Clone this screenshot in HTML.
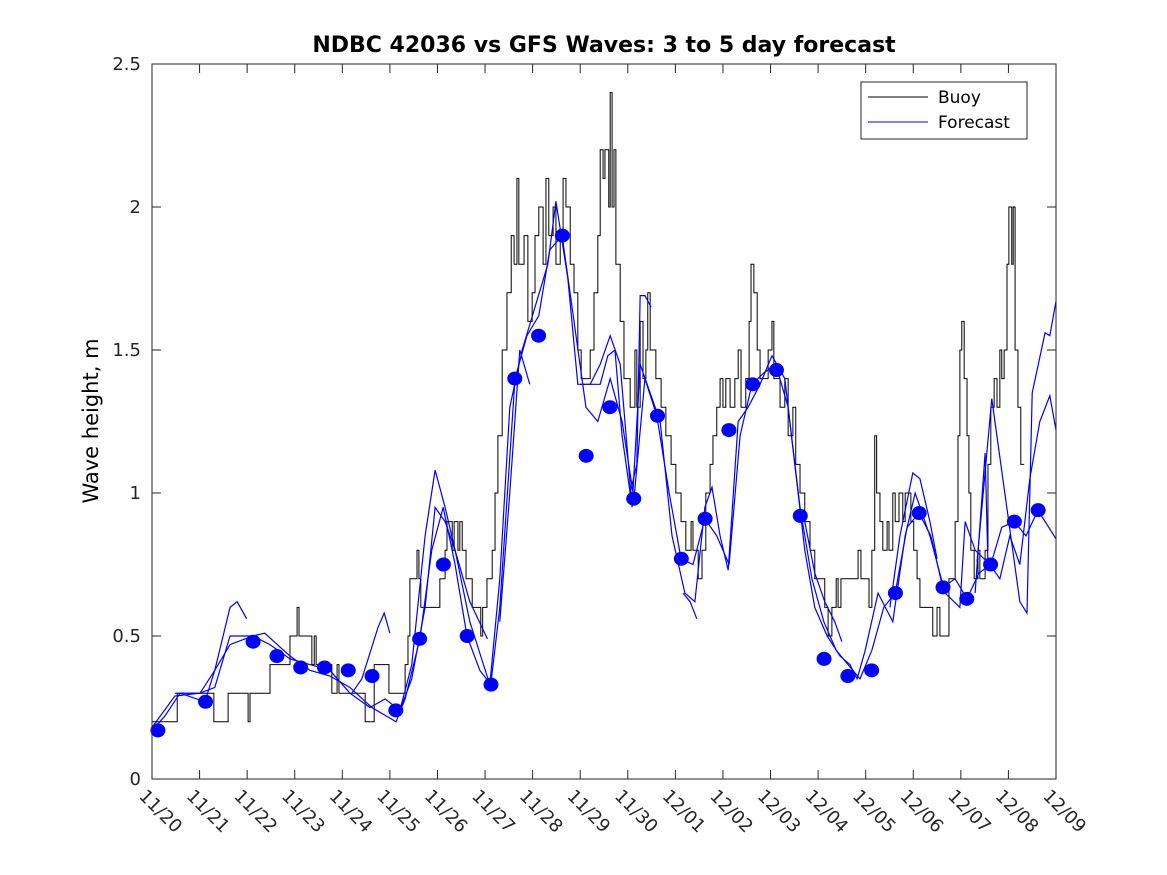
<!DOCTYPE html>
<html><head><meta charset="utf-8"><style>
body{margin:0;background:#fff;}
svg{display:block;font-family:"DejaVu Sans","Liberation Sans",sans-serif;}
</style></head><body>
<svg id="chart" width="1167" height="875" viewBox="0 0 1167 875">
<rect x="0" y="0" width="1167" height="875" fill="#fff"/>
<text x="604" y="52" text-anchor="middle" font-size="22" font-weight="bold">NDBC 42036 vs GFS Waves: 3 to 5 day forecast</text>
<text transform="translate(98,421) rotate(-90)" text-anchor="middle" font-size="21">Wave height, m</text>
<g id="grid"></g>
<g id="series"></g>
<g id="dots"></g>
<rect x="152" y="64" width="904" height="715" fill="none" stroke="#262626" stroke-width="1"/>
<g>
<rect x="861" y="82" width="166" height="57" fill="#fff" stroke="#262626"/>
<line x1="868" y1="97" x2="928" y2="97" stroke="#000"/>
<text x="938" y="103" font-size="17">Buoy</text>
<line x1="868" y1="122" x2="928" y2="122" stroke="#00f"/>
<text x="938" y="128" font-size="17">Forecast</text>
</g>
</svg>
<script>
const xTickLabels=["11/20","11/21","11/22","11/23","11/24","11/25","11/26","11/27","11/28","11/29","11/30","12/01","12/02","12/03","12/04","12/05","12/06","12/07","12/08","12/09"];
const yTicks=[0,0.5,1,1.5,2,2.5];
const yTickLabels=["0","0.5","1","1.5","2","2.5"];
const buoyT=[0,.53,1.30,1.60,2.02,2.06,2.48,2.90,3.05,3.09,3.36,3.41,3.45,3.78,3.89,3.93,4.48,4.67,4.98,5.32,5.38,5.42,5.57,5.61,5.65,6.05,6.16,6.20,6.31,6.35,6.43,6.47,6.52,6.60,6.73,6.91,6.95,7.04,7.15,7.21,7.27,7.36,7.46,7.55,7.61,7.67,7.71,7.82,7.90,7.99,8.05,8.13,8.22,8.28,8.34,8.43,8.49,8.58,8.64,8.70,8.79,8.87,8.95,9.02,9.21,9.29,9.37,9.42,9.48,9.52,9.60,9.63,9.67,9.71,9.75,9.84,9.92,10.05,10.15,10.19,10.26,10.32,10.38,10.42,10.47,10.59,10.70,10.80,10.91,11.01,11.12,11.22,11.33,11.37,11.48,11.56,11.64,11.73,11.79,11.87,11.94,12.00,12.06,12.15,12.25,12.32,12.38,12.48,12.55,12.59,12.65,12.72,12.78,12.95,13.03,13.07,13.20,13.30,13.37,13.47,13.53,13.62,13.72,13.83,13.93,14.14,14.21,14.29,14.38,14.42,14.48,14.84,14.90,15.07,15.13,15.19,15.23,15.30,15.36,15.45,15.49,15.57,15.62,15.70,15.78,15.83,15.95,16.01,16.08,16.14,16.41,16.50,16.56,16.75,16.88,16.94,16.98,17.02,17.07,17.13,17.17,17.21,17.28,17.36,17.40,17.51,17.57,17.63,17.70,17.76,17.82,17.86,17.91,17.97,18.01,18.07,18.10,18.14,18.20,18.26,18.31];
const buoyV=[.2,.3,.2,.3,.2,.3,.4,.5,.6,.5,.4,.5,.4,.3,.4,.3,.2,.4,.3,.4,.5,.7,.8,.7,.6,.7,.8,.9,.8,.9,.8,.9,.8,.7,.6,.5,.6,.7,.8,1.0,1.2,1.5,1.7,1.9,1.8,2.1,1.8,1.9,1.6,1.7,1.9,2.0,1.8,2.1,1.9,2.0,1.8,1.9,2.1,2.0,1.8,1.7,1.5,1.4,1.5,1.7,1.9,2.2,2.1,2.2,2.0,2.4,2.0,2.2,1.8,1.6,1.4,1.3,1.5,1.3,1.6,1.4,1.5,1.7,1.5,1.4,1.3,1.2,1.1,1.0,.9,.8,.9,.8,.7,.8,1.0,1.1,1.2,1.3,1.4,1.3,1.4,1.3,1.4,1.5,1.3,1.4,1.6,1.8,1.7,1.5,1.4,1.5,1.6,1.4,1.3,1.4,1.2,1.3,1.1,1.0,.9,.8,.7,.6,.5,.6,.7,.6,.7,.8,.7,.6,.8,1.2,1.0,.9,.8,.9,.8,1.0,.9,1.0,.9,1.0,.9,.8,.7,.6,.5,.6,.5,.7,.9,1.2,1.5,1.6,1.4,1.2,1.0,.8,.7,.8,.7,.8,1.1,1.3,1.4,1.3,1.5,1.4,1.5,1.8,2.0,1.8,2.0,1.5,1.3,1.1,1.1];
const fc1T=[0,.27,.59,1.11,1.32,1.64,2.12,2.37,2.90,3.32,3.74,4.16,4.62,5.13,5.32,5.63,5.88,6.12,6.37,6.62,6.89,7.12,7.31,7.63,7.88,8.13,8.36,8.62,8.87,9.12,9.37,9.63,9.88,10.13,10.36,10.61,10.87,11.12,11.37,11.62,11.87,12.13,12.36,12.61,12.86,13.11,13.37,13.62,13.87,14.12,14.38,14.63,14.88,15.13,15.38,15.62,15.87,16.12,16.37,16.62,16.88,17.13,17.38,17.63,17.86,18.12,18.37,18.62,19];
const fc1V=[.17,.22,.30,.27,.38,.47,.50,.51,.43,.38,.36,.32,.25,.20,.28,.49,.80,.95,.75,.50,.38,.33,.60,1.40,1.55,1.62,1.85,1.90,1.60,1.30,1.25,1.40,1.25,.98,1.40,1.27,1.00,.77,.75,.91,.85,.75,1.20,1.38,1.42,1.45,1.30,.95,.70,.55,.45,.40,.35,.45,.60,.65,.88,.93,.85,.67,.70,.63,.72,.75,.88,.90,.85,.94,.84];
const fc2T=[0,.48,1.01,1.32,1.64,2.12,2.48,2.90,3.32,3.74,4.16,4.58,4.90,5.21,5.46,5.74,5.95,6.16,6.37,6.68,7.10,7.31,7.52,7.78,8.05,8.32,8.49,8.74,8.95,9.21,9.42,9.63,9.84,10.09,10.26,10.47,10.68,10.93,11.20,11.41,11.62,11.77,11.94,12.11,12.32,12.53,12.78,13.03,13.30,13.51,13.72,13.93,14.19,14.46,14.67,14.82,14.99,15.26,15.57,15.83,16.04,16.35,16.67,16.98,17.09,17.30,17.61,17.82,18.03,18.24,18.45,18.66,18.87,19];
const fc2V=[.18,.29,.30,.32,.50,.50,.47,.42,.40,.38,.30,.25,.28,.24,.35,.60,.95,.90,.80,.55,.33,.70,1.30,1.50,1.65,1.80,2.02,1.75,1.38,1.38,1.45,1.55,1.45,.95,1.45,1.35,1.25,.85,.65,.62,.95,1.02,.85,.73,1.25,1.30,1.38,1.48,1.40,1.10,.80,.60,.50,.43,.40,.35,.45,.65,.55,.85,1.00,.85,.65,.60,.90,.80,.75,.70,.85,.75,1.05,1.25,1.34,1.22];
const fc3T=[.48,1.01,1.32,1.64,1.79,1.99];
const fc3V=[.30,.30,.38,.60,.62,.56];
const fc4T=[4.20,4.41,4.75,4.88,5.00];
const fc4V=[.30,.35,.53,.58,.51];
const fc5T=[5.21,5.46,5.74,5.95,6.16,6.37,6.68,7.05];
const fc5V=[.24,.40,.85,1.08,.95,.80,.62,.49];
const fc6T=[7.31,7.52,7.73,7.94];
const fc6V=[.55,1.00,1.50,1.38];
const fc7T=[9.00,9.21,9.42,9.58,9.73,9.88,10.05,10.19,10.26,10.36,10.49];
const fc7V=[1.38,1.38,1.38,1.48,1.50,1.20,1.00,1.10,1.69,1.69,1.65];
const fc8T=[11.16,11.31,11.45];
const fc8V=[.65,.62,.56];
const fc9T=[13.72,13.93,14.14,14.35,14.50];
const fc9V=[.90,.72,.62,.55,.48];
const fc10T=[15.51,15.72,15.99,16.14,16.35,16.50];
const fc10V=[.60,.85,1.07,1.05,.90,.77];
const fc11T=[17.30,17.51,17.57];
const fc11V=[.65,1.14,.75];
const fc12T=[17.34,17.65,18.24,18.39,18.50,18.77,18.87,19];
const fc12V=[.76,1.33,.62,.58,1.35,1.56,1.55,1.67];
const dotT=[.125,1.125,2.125,2.625,3.125,3.625,4.125,4.625,5.125,5.625,6.125,6.625,7.125,7.625,8.125,8.625,9.125,9.625,10.125,10.625,11.125,11.625,12.125,12.625,13.125,13.625,14.125,14.625,15.125,15.625,16.125,16.625,17.125,17.625,18.125,18.625];
const dotV=[.17,.27,.48,.43,.39,.39,.38,.36,.24,.49,.75,.50,.33,1.40,1.55,1.90,1.13,1.30,.98,1.27,.77,.91,1.22,1.38,1.43,.92,.42,.36,.38,.65,.93,.67,.63,.75,.90,.94];

const NS="http://www.w3.org/2000/svg";
const X0=152,X1=1056,Y0=779,Y1=64,DAYS=19,YMAX=2.5;
function xs(d){return X0+(X1-X0)*d/DAYS;}
function ys(v){return Y0-(Y0-Y1)*v/YMAX;}
function mk(tag,attrs,parent){const e=document.createElementNS(NS,tag);for(const k in attrs)e.setAttribute(k,attrs[k]);parent.appendChild(e);return e;}
const grid=document.getElementById('grid');
xTickLabels.forEach((lab,i)=>{
  const x=xs(i);
  const t1=mk('line',{x1:x,y1:Y0,x2:x,y2:Y0-9,stroke:'#262626'},grid);
  
  
  const t2=mk('line',{x1:x,y1:Y1,x2:x,y2:Y1+9,stroke:'#262626'},grid);
  
  
  const tx=mk('text',{x:0,y:0,'font-size':18,fill:'#262626',transform:`translate(${x-14},${797}) rotate(45)`},grid);
  tx.textContent=lab;
  
  
});
yTicks.forEach((v,i)=>{
  const y=ys(v);
  const t1=mk('line',{x1:X0,y1:y,x2:X0+9,y2:y,stroke:'#262626'},grid);
  
  
  const t2=mk('line',{x1:X1,y1:y,x2:X1-9,y2:y,stroke:'#262626'},grid);
  
  
  const tx=mk('text',{x:141,y:y+6,'font-size':18,'text-anchor':'end',fill:'#262626'},grid);
  tx.textContent=yTickLabels[i];
  
  
});
const ser=document.getElementById('series');
let p='';
for(let i=0;i<buoyT.length;i++){
  const x=xs(buoyT[i]),y=ys(buoyV[i]);
  if(i===0)p+=`M${x},${y}`;else p+=`H${x}V${y}`;
}
p+=`H${xs(buoyT[buoyT.length-1])+1}`;
const bl=mk('path',{d:p,fill:'none',stroke:'#000','stroke-width':1},ser);


const fcs=[[fc1T,fc1V],[fc2T,fc2V],[fc3T,fc3V],[fc4T,fc4V],[fc5T,fc5V],[fc6T,fc6V],[fc7T,fc7V],[fc8T,fc8V],[fc9T,fc9V],[fc10T,fc10V],[fc11T,fc11V],[fc12T,fc12V]];
fcs.forEach(([T,V])=>{
  const pts=T.map((t,i)=>xs(t)+','+ys(V[i])).join(' ');
  const pl=mk('polyline',{points:pts,fill:'none',stroke:'#00f','stroke-width':1.2},ser);
  
  
});
const dots=document.getElementById('dots');
dotT.forEach((t,i)=>{
  const c=mk('ellipse',{cx:xs(t),cy:ys(dotV[i]),rx:7.5,ry:7,fill:'#00f'},dots);
  
  
});
</script>
</body></html>
